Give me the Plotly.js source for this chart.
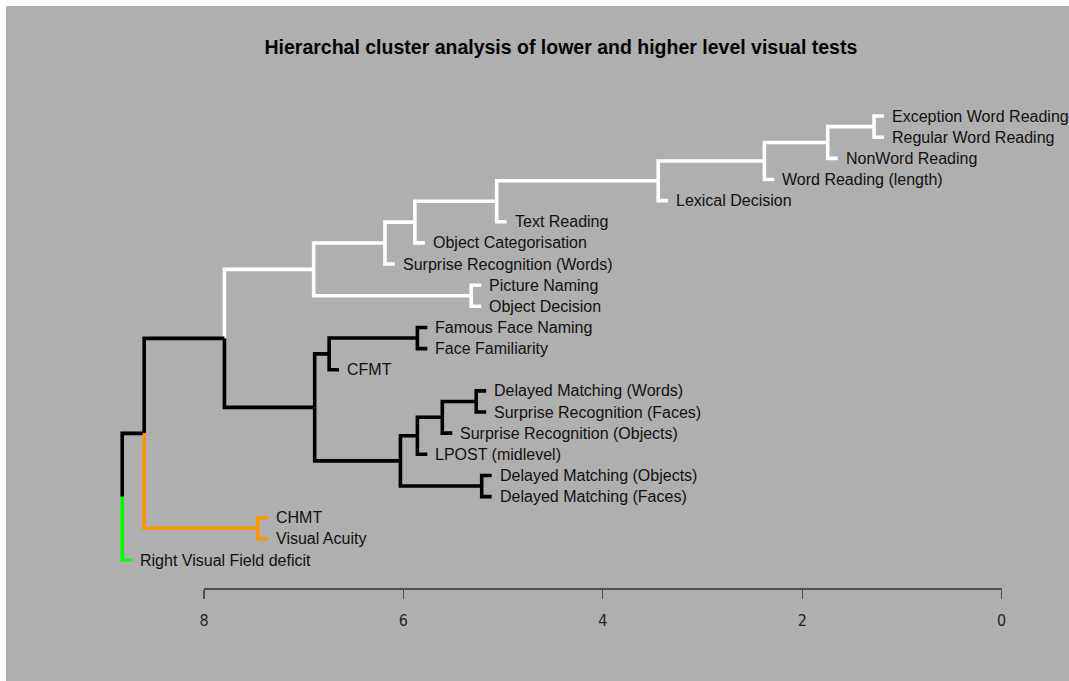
<!DOCTYPE html>
<html>
<head>
<meta charset="utf-8">
<script src="https://cdn.plot.ly/plotly-3.0.1.min.js"></script>
<style>
  html, body { margin: 0; padding: 0; background: #ffffff; }
  #chart { position: absolute; left: 6px; top: 6px; width: 1063px; height: 675px; }
</style>
</head>
<body>
<div id="chart"></div>
<script>
// ---- Data ----
// Leaf labels, in dendrogram order (top to bottom)
const leafLabels = [
  "Exception Word Reading",
  "Regular Word Reading",
  "NonWord Reading",
  "Word Reading (length)",
  "Lexical Decision",
  "Text Reading",
  "Object Categorisation",
  "Surprise Recognition (Words)",
  "Picture Naming",
  "Object Decision",
  "Famous Face Naming",
  "Face Familiarity",
  "CFMT",
  "Delayed Matching (Words)",
  "Surprise Recognition (Faces)",
  "Surprise Recognition (Objects)",
  "LPOST (midlevel)",
  "Delayed Matching (Objects)",
  "Delayed Matching (Faces)",
  "CHMT",
  "Visual Acuity",
  "Right Visual Field deficit"
];
// Merges (hclust style): negative = leaf number (1-based), positive = earlier merge step
const mergeLeft  = [-1, 1, 2, 3, 4, -18, -14, -9, 7, -11, 9, 5, 11, 12, 10, 15, 14, 17, -20, 18, 20];
const mergeRight = [-2, -3, -4, -5, -6, -19, -15, -10, -16, -12, -17, -7, 6, -8, -13, 13, 8, 16, -21, 19, -22];
const mergeHeight = [1.28, 1.745, 2.38, 3.445, 5.065, 5.215, 5.27, 5.32, 5.61, 5.86, 5.86, 5.885, 6.03, 6.185, 6.745, 6.89, 6.90, 7.795, 7.46, 8.60, 8.82];
// Cluster membership of each leaf (cut at k = 4)
const leafCluster = [1,1,1,1,1,1,1,1,1,1, 2,2,2,2,2,2,2,2,2, 3,3, 4];
const clusterColors = ["#ffffff", "#000000", "#ff9500", "#00ff00"];
const defaultColor = "#000000";
const tickValues = [0, 2, 4, 6, 8];
const titleText = "Hierarchal cluster analysis of lower and higher level visual tests";

// ---- Styling ----
const hang = 0.1;
const nLeaves = leafLabels.length;

// ---- Build dendrogram geometry ----
const leafY = leafLabels.map((_, i) => nLeaves - i);
const nodes = []; // per merge: {y, h, clusters}
function childInfo(c) {
  if (c < 0) {
    const i = -c - 1;
    return { y: leafY[i], leaf: i, clusters: new Set([leafCluster[i]]) };
  }
  const n = nodes[c - 1];
  return { y: n.y, h: n.h, clusters: n.clusters };
}
const segs = {}; // color -> {x:[], y:[]}
function addSeg(color, xs, ys) {
  if (!segs[color]) segs[color] = { x: [], y: [] };
  segs[color].x.push(...xs, null);
  segs[color].y.push(...ys, null);
}
const leafEnds = [];
for (let k = 0; k < mergeLeft.length; k++) {
  const h = mergeHeight[k];
  const a = childInfo(mergeLeft[k]);
  const b = childInfo(mergeRight[k]);
  const y = (a.y + b.y) / 2;
  const clusters = new Set([...a.clusters, ...b.clusters]);
  nodes.push({ y: y, h: h, clusters: clusters });
  [a, b].forEach(c => {
    const ch = (c.leaf !== undefined) ? h - hang : c.h;
    if (c.leaf !== undefined) leafEnds[c.leaf] = ch;
    const col = c.clusters.size === 1 ? clusterColors[[...c.clusters][0] - 1] : defaultColor;
    addSeg(col, [h, h, ch], [y, c.y, c.y]);
  });
}

const traces = Object.keys(segs).map(col => ({
  type: "scatter", mode: "lines",
  x: segs[col].x, y: segs[col].y,
  line: { color: col, width: 3.6 },
  hoverinfo: "skip", showlegend: false, connectgaps: false
}));

const annotations = leafLabels.map((lab, i) => ({
  x: leafEnds[i], y: leafY[i], xref: "x", yref: "y",
  text: lab, showarrow: false, xanchor: "left", yanchor: "middle",
  xshift: 6,
  font: { family: "Liberation Sans, Arial, sans-serif", size: 16, color: "#111111" }
}));

const layout = {
  width: 1063, height: 675,
  paper_bgcolor: "#afafaf", plot_bgcolor: "#afafaf",
  margin: { l: 0, r: 0, t: 0, b: 92, pad: 0 },
  showlegend: false,
  title: {
    text: "<b>" + titleText + "</b>",
    x: 0.522, xanchor: "center", xref: "container",
    y: 0.939, yanchor: "middle", yref: "container",
    font: { family: "Liberation Sans, Arial, sans-serif", size: 19.5, color: "#000000" }
  },
  xaxis: {
    range: [9.9857, -0.675],
    showgrid: false, zeroline: false, showline: false,
    tickvals: tickValues, ticktext: tickValues.map(String),
    ticks: "outside", ticklen: 9, tickwidth: 1.2, tickcolor: "#4d4d4d",
    tickfont: { family: "Liberation Sans Narrow, DejaVu Sans Condensed, Liberation Sans, sans-serif", size: 16, color: "#222222" },
    ticklabelstandoff: 8,
    fixedrange: true
  },
  yaxis: {
    range: [-0.372, 27.206],
    visible: false, showgrid: false, zeroline: false, fixedrange: true
  },
  shapes: [{
    type: "line", xref: "x", yref: "paper",
    x0: 8, x1: 0, y0: 0, y1: 0,
    line: { color: "#4d4d4d", width: 2 }
  }],
  annotations: annotations
};

Plotly.newPlot("chart", traces, layout, { displayModeBar: false, staticPlot: true });
</script>
</body>
</html>
